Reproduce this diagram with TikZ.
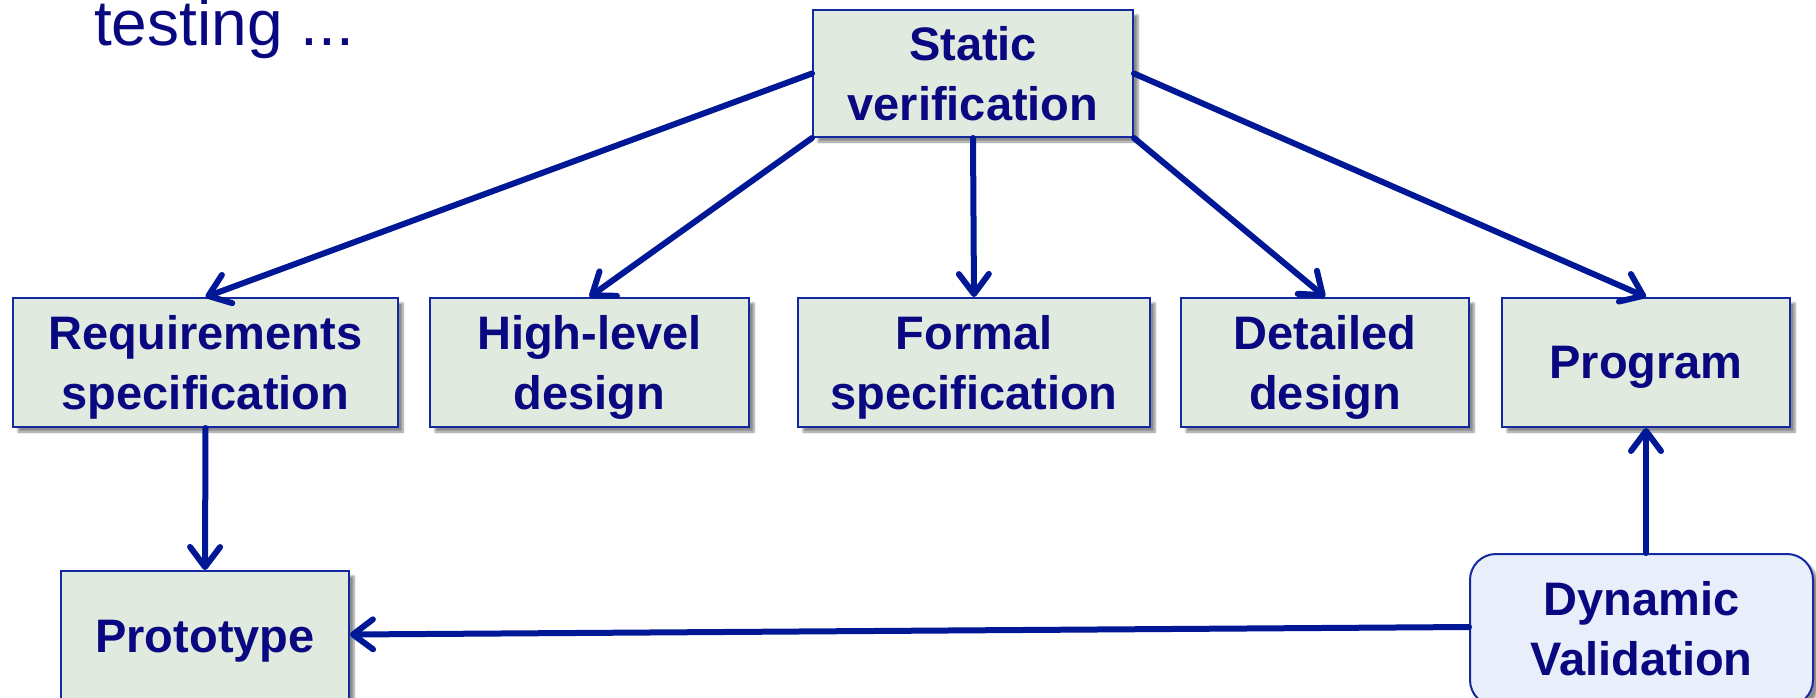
\documentclass[tikz,border=0pt]{standalone}
\usepackage{fontspec}
\setmainfont{Liberation Sans}
\usetikzlibrary{arrows.meta,shadows,shadows.blur}
\definecolor{navytext}{RGB}{10,8,128}
\definecolor{arrowblue}{RGB}{0,24,150}
\definecolor{boxborder}{RGB}{20,40,160}
\definecolor{boxfill}{RGB}{224,234,222}
\definecolor{dynfill}{RGB}{232,239,250}
\tikzset{
  stagebox/.style={draw=boxborder, line width=2pt, fill=boxfill, text=navytext,
    font=\fontsize{47}{60}\selectfont\bfseries, align=center, inner sep=0pt, text depth=-5pt,
    blur shadow={shadow xshift=5pt, shadow yshift=-5pt, shadow blur steps=6, shadow opacity=45}},
  dynbox/.style={stagebox, fill=dynfill, rounded corners=26pt},
  flow/.style={draw=arrowblue, line width=6pt, line cap=round,
    -{Straight Barb[length=20pt,width=30pt,line cap=round,line join=round]}}
}
\begin{document}
\begin{tikzpicture}[x=1pt,y=-1pt]
\useasboundingbox (0,0) rectangle (1816,697);
\node[anchor=base west, text=navytext, font=\fontsize{64}{70}\selectfont, inner sep=0pt] (title) at (94,45) {testing ...};
\node[stagebox, minimum width=320pt, minimum height=127pt] (sv) at (973,73.5) {Static\\verification};
\node[stagebox, minimum width=385pt, minimum height=129pt] (req) at (205.5,362.5) {Requirements\\specification};
\node[stagebox, minimum width=319pt, minimum height=129pt] (hld) at (589.5,362.5) {High-level\\design};
\node[stagebox, minimum width=352pt, minimum height=129pt] (fs) at (974,362.5) {Formal\\specification};
\node[stagebox, minimum width=288pt, minimum height=129pt] (dd) at (1325,362.5) {Detailed\\design};
\node[stagebox, minimum width=288pt, minimum height=129pt] (prog) at (1646,362.5) {Program};
\node[stagebox, text depth=9pt, minimum width=288pt, minimum height=139pt] (proto) at (205,640.5) {Prototype};
\node[dynbox, text depth=4pt, minimum width=343pt, minimum height=152pt] (dyn) at (1641.5,630) {Dynamic\\Validation};
\draw[flow] (sv.west) -- (req.north);
\draw[flow] (sv.south west) -- (hld.north);
\draw[flow] (sv.south) -- (fs.north);
\draw[flow] (sv.south east) -- (dd.north);
\draw[flow] (sv.east) -- (prog.north);
\draw[flow] (req.south) -- (proto.north);
\draw[flow] (prog.south |- dyn.north) -- (prog.south);
\draw[flow] ([yshift=3pt]dyn.west) -- ([yshift=6pt]proto.east);
\end{tikzpicture}
\end{document}
